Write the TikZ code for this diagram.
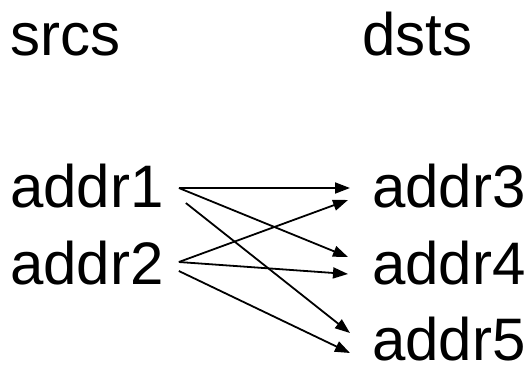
\documentclass[tikz,border=0pt]{standalone}
\usepackage{fontspec}
\setmainfont{Liberation Sans}
\usetikzlibrary{arrows.meta}
\newlength{\GapOut}
\newlength{\GapIn}
\setlength{\GapOut}{15pt}
\setlength{\GapIn}{22pt}
\tikzset{
  addr node/.style={inner sep=0pt, anchor=base west, font=\fontsize{60}{72}\selectfont},
  head node/.style={addr node},
  link/.style={line width=1.8pt, -{Triangle[length=15pt,width=11pt]}}
}

\begin{document}
\begin{tikzpicture}[x=1pt,y=1pt]
  \useasboundingbox (0,0) rectangle (531,-365);

  \node[head node] (srcs) at (10,-55) {srcs};
  \node[head node] (dsts) at (362,-55) {dsts};

  \node[addr node] (a1) at (10,-207) {addr1};
  \node[addr node] (a2) at (10,-284) {addr2};
  \node[addr node] (a3) at (372,-207) {addr3};
  \node[addr node] (a4) at (372,-284) {addr4};
  \node[addr node] (a5) at (372,-360) {addr5};

  \draw[link] ([xshift=\GapOut,yshift=19pt]a1.base east) -- ([xshift=-\GapIn,yshift=19pt]a3.base west);
  \draw[link] ([xshift=\GapOut,yshift=19pt]a1.base east) -- ([xshift=-\GapIn-2pt,yshift=27pt]a4.base west);
  \draw[link] ([xshift=\GapOut+7pt,yshift=4pt]a1.base east) -- ([xshift=-\GapIn,yshift=27pt]a5.base west);
  \draw[link] ([xshift=\GapOut,yshift=22pt]a2.base east) -- ([xshift=-\GapIn-2pt,yshift=7pt]a3.base west);
  \draw[link] ([xshift=\GapOut,yshift=22pt]a2.base east) -- ([xshift=-\GapIn-2pt,yshift=10pt]a4.base west);
  \draw[link] ([xshift=\GapOut,yshift=13pt]a2.base east) -- ([xshift=-\GapIn,yshift=7pt]a5.base west);
\end{tikzpicture}
\end{document}
